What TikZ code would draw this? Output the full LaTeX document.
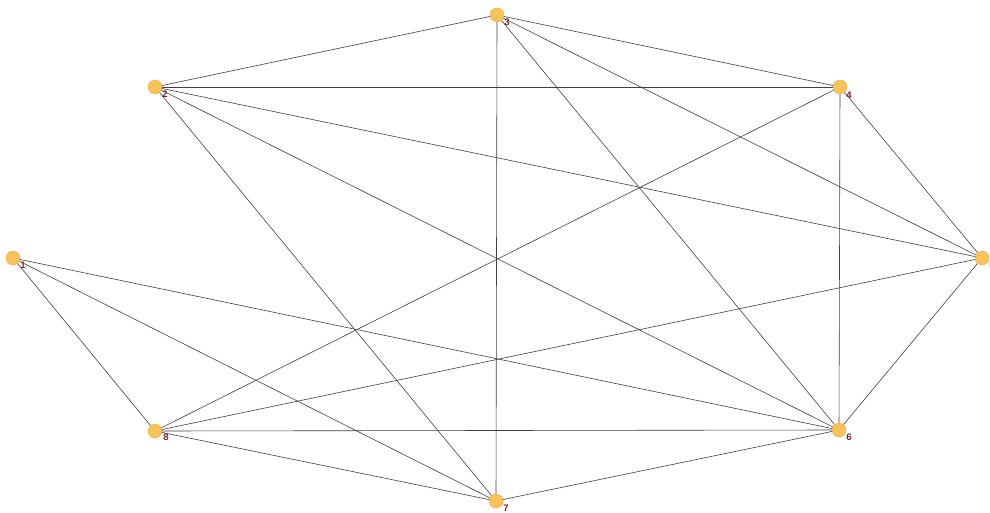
\documentclass[tikz,border=0pt]{standalone}
\usepackage{fontspec}
\setmainfont{Liberation Sans}
\definecolor{nodefill}{HTML}{F9C25A}
\definecolor{nodeedge}{HTML}{F2B040}
\definecolor{labred}{HTML}{8A1C2C}
\definecolor{edgecol}{HTML}{404040}
\tikzset{
  vert/.style={circle,fill=nodefill,draw=nodeedge,line width=0.4pt,minimum size=14pt,inner sep=0pt},
  lab/.style={text=labred,font=\bfseries\fontsize{9.5}{9.5}\selectfont,inner sep=0pt},
  link/.style={draw=edgecol,line width=0.6pt}
}
\begin{document}
\begin{tikzpicture}[x=1pt,y=-1pt]
\useasboundingbox (0,0) rectangle (990,513);
\fill[white] (0,0) rectangle (990,513);
% coordinates
\coordinate (p1) at (13,258);
\coordinate (p2) at (155,87);
\coordinate (p3) at (497,15);
\coordinate (p4) at (840,87);
\coordinate (p5) at (982,258);
\coordinate (p6) at (839,430);
\coordinate (p7) at (496,501);
\coordinate (p8) at (155,431);
% labels
\node[lab] (l1) at (23,265) {1};
\node[lab] (l2) at (165,94) {2};
\node[lab] (l3) at (507,22) {3};
\node[lab] (l4) at (849,95) {4};
\node[lab] (l5) at (992,265) {5};
\node[lab] (l6) at (849,437) {6};
\node[lab] (l7) at (506,508) {7};
\node[lab] (l8) at (166,437) {8};
% edges
\draw[link] (p3) -- (p2);
\draw[link] (p3) -- (p4);
\draw[link] (p3) -- (p7);
\draw[link] (p3) -- (p6);
\draw[link] (p3) -- (p5);
\draw[link] (p2) -- (p4);
\draw[link] (p2) -- (p5);
\draw[link] (p2) -- (p6);
\draw[link] (p2) -- (p7);
\draw[link] (p4) -- (p6);
\draw[link] (p4) -- (p5);
\draw[link] (p4) -- (p8);
\draw[link] (p1) -- (p8);
\draw[link] (p1) -- (p7);
\draw[link] (p1) -- (p6);
\draw[link] (p5) -- (p8);
\draw[link] (p5) -- (p6);
\draw[link] (p8) -- (p6);
\draw[link] (p8) -- (p7);
\draw[link] (p7) -- (p6);
% vertices
\node[vert] (n1) at (p1) {};
\node[vert] (n2) at (p2) {};
\node[vert] (n3) at (p3) {};
\node[vert] (n4) at (p4) {};
\node[vert] (n5) at (p5) {};
\node[vert] (n6) at (p6) {};
\node[vert] (n7) at (p7) {};
\node[vert] (n8) at (p8) {};
\end{tikzpicture}
\end{document}
